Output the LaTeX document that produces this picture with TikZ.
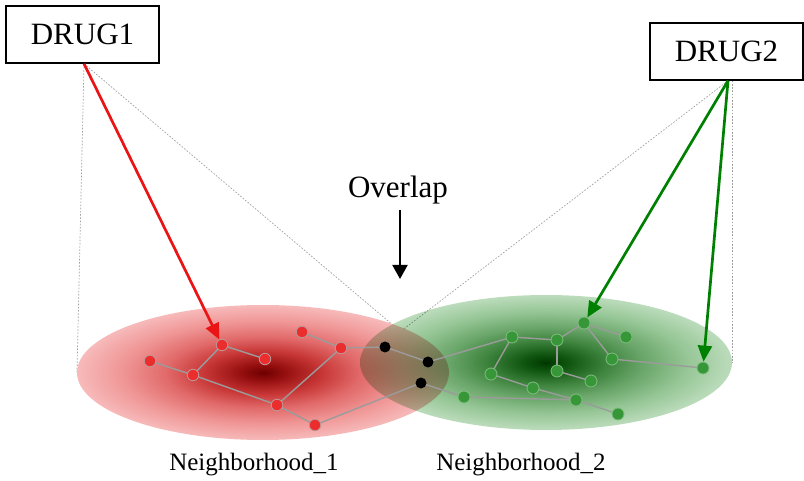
\documentclass[tikz,border=0pt]{standalone}
\usepackage{fontspec}
\setmainfont{Liberation Serif}
\usetikzlibrary{arrows.meta}
\definecolor{rc0}{RGB}{110,0,0}
\definecolor{rc1}{RGB}{150,15,15}
\definecolor{rc2}{RGB}{200,55,55}
\definecolor{rc3}{RGB}{225,105,105}
\definecolor{rc4}{RGB}{240,150,150}
\definecolor{rc5}{RGB}{247,186,186}
\definecolor{gc0}{RGB}{0,55,0}
\definecolor{gc1}{RGB}{15,85,15}
\definecolor{gc2}{RGB}{60,130,60}
\definecolor{gc3}{RGB}{105,165,105}
\definecolor{gc4}{RGB}{150,198,150}
\definecolor{gc5}{RGB}{188,220,188}
\definecolor{nred}{RGB}{235,45,45}
\definecolor{nredo}{RGB}{190,150,150}
\definecolor{ngreen}{RGB}{55,150,55}
\definecolor{ngreeno}{RGB}{125,190,125}
\definecolor{edgegray}{RGB}{155,155,155}
\definecolor{guidegray}{RGB}{160,160,160}
\definecolor{darrowred}{RGB}{235,20,20}
\definecolor{darrowgreen}{RGB}{0,128,0}
\pgfdeclareradialshading{redglow}{\pgfpoint{0bp}{0bp}}{color(0bp)=(rc0); color(3bp)=(rc1); color(8bp)=(rc2); color(13bp)=(rc3); color(19bp)=(rc4); color(25bp)=(rc5); color(50bp)=(rc5)}
\pgfdeclareradialshading{greenglow}{\pgfpoint{0bp}{0bp}}{color(0bp)=(gc0); color(3bp)=(gc1); color(8bp)=(gc2); color(13bp)=(gc3); color(19bp)=(gc4); color(25bp)=(gc5); color(50bp)=(gc5)}
\pgfdeclarelayer{backdrop}
\pgfdeclarelayer{links}
\pgfsetlayers{backdrop,links,main}
\begin{document}
\begin{tikzpicture}[x=1pt,y=-1pt,
  drugbox/.style={draw=black, line width=1.5pt, minimum width=153pt, minimum height=57pt, inner sep=0pt, font=\fontsize{31}{36}\selectfont},
  lbl/.style={font=\fontsize{25}{30}\selectfont, anchor=base},
  rnode/.style={circle, fill=nred, draw=nredo, line width=0.8pt, inner sep=0pt, minimum size=11.5pt},
  gnode/.style={circle, fill=ngreen, draw=ngreeno, line width=0.8pt, inner sep=0pt, minimum size=12pt},
  bnode/.style={circle, fill=black, inner sep=0pt, minimum size=11pt},
  link/.style={draw=edgegray, line width=1.4pt},
  guide/.style={draw=guidegray, line width=0.7pt, dash pattern=on 1.6pt off 1.6pt},
  redarrow/.style={draw=darrowred, line width=2.7pt, -{Triangle[length=16pt,width=14pt]}},
  greenarrow/.style={draw=darrowgreen, line width=2.7pt, -{Triangle[length=16pt,width=14pt]}},
  blackarrow/.style={draw=black, line width=2pt, -{Triangle[length=14pt,width=15pt]}}
]
\useasboundingbox (0,0) rectangle (804,481);
% drug boxes
\node[drugbox] (d1) at (82.5,34.5) {DRUG1};
\node[drugbox] (d2) at (726.5,51.5) {DRUG2};
% ellipse extremities
\coordinate (e1w) at (77,372.5);
\coordinate (e1e) at (449,372.5);
\coordinate (e2w) at (360,362.5);
\coordinate (e2e) at (732,362.5);
\coordinate (d2r) at ([xshift=5.5pt]d2.south);
\coordinate (d2a) at ([xshift=1.5pt]d2.south);
\coordinate (d1a) at ([xshift=1.5pt]d1.south);
\begin{pgfonlayer}{backdrop}
% guide lines
\draw[guide] (d1a) -- (e1w);
\draw[guide] (d1a) -- (e1e);
\draw[guide] (d2a) -- (e2w);
\draw[guide] (d2r) -- (e2e);
% neighborhoods
\shade[shading=redglow] (263,372.5) ellipse [x radius=186, y radius=67.5];
\begin{scope}[blend mode=multiply]
\shade[shading=greenglow] (546,362.5) ellipse [x radius=186, y radius=67.5];
\end{scope}
\end{pgfonlayer}
% red nodes
\node[rnode] (r1) at (222,345) {};
\node[rnode] (r2) at (265,359) {};
\node[rnode] (r3) at (150,361) {};
\node[rnode] (r4) at (193,375) {};
\node[rnode] (r5) at (277,405) {};
\node[rnode] (r6) at (315,425) {};
\node[rnode] (r7) at (302,332) {};
\node[rnode] (r8) at (341,348) {};
% black nodes
\node[bnode] (b1) at (385,347) {};
\node[bnode] (b2) at (428,362) {};
\node[bnode] (b3) at (421,383) {};
% green nodes
\node[gnode] (g1) at (512,337) {};
\node[gnode] (g2) at (557,340) {};
\node[gnode] (g3) at (584,323) {};
\node[gnode] (g4) at (626,337) {};
\node[gnode] (g5) at (612,359) {};
\node[gnode] (g6) at (703,368) {};
\node[gnode] (g7) at (491,374) {};
\node[gnode] (g8) at (557,371) {};
\node[gnode] (g9) at (591,381) {};
\node[gnode] (g10) at (533,388) {};
\node[gnode] (g11) at (464,397) {};
\node[gnode] (g12) at (576,400) {};
\node[gnode] (g13) at (618,414) {};
% links
\begin{pgfonlayer}{links}
\foreach \a/\b in {r3/r4, r4/r1, r1/r2, r4/r5, r5/r8, r5/r6, r7/r8, r8/b1, b1/b2, r6/b3, b2/g1, g1/g2, g2/g3, g3/g4, g3/g5, g5/g6, g2/g8, g8/g9, g1/g7, g7/g10, g10/g12, g12/g13, b3/g11, g11/g12}
  \draw[link] (\a.center) -- (\b.center);
\end{pgfonlayer}
% drug arrows
\draw[redarrow] (d1a) -- (r1);
\draw[greenarrow] (d2a) -- (g3);
\draw[greenarrow] (d2a) -- (g6);
% overlap
\node[font=\fontsize{31}{36}\selectfont, anchor=base] (ov) at (398,198) {Overlap};
\coordinate (ovtop) at (400,210);
\coordinate (ovtip) at (400,279);
\draw[blackarrow] (ovtop) -- (ovtip);
% labels
\node[lbl] (n1) at (254,470) {Neighborhood\_1};
\node[lbl] (n2) at (521,470) {Neighborhood\_2};
\end{tikzpicture}
\end{document}
